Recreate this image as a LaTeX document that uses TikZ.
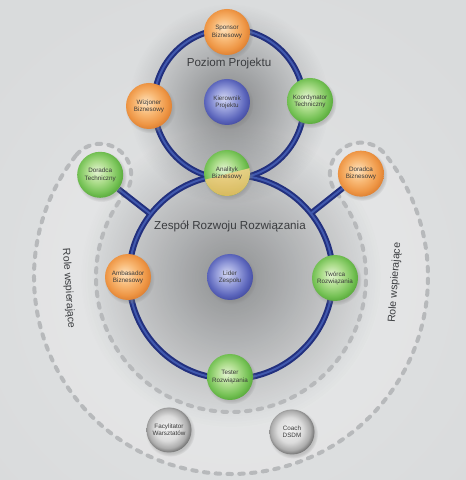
\documentclass[tikz,border=0pt]{standalone}
\usepackage{fontspec}
\setmainfont{Liberation Sans}
\usetikzlibrary{calc,fadings,shadows}

\definecolor{bgc}{HTML}{D9DBDC}
\definecolor{glowc}{HTML}{4A4C4F}
\definecolor{txt}{HTML}{3A3A3A}
\definecolor{ttl}{HTML}{3B3D40}
\definecolor{ringdark}{HTML}{22307E}
\definecolor{ringlight}{HTML}{4159AE}
\definecolor{dashc}{HTML}{B7B9BB}
% orange
\definecolor{or1}{HTML}{FDE2BE}
\definecolor{or2}{HTML}{F8B874}
\definecolor{or3}{HTML}{EE9645}
\definecolor{or4}{HTML}{D9792C}
% green
\definecolor{gr1}{HTML}{E4F4D2}
\definecolor{gr2}{HTML}{ABDC8A}
\definecolor{gr3}{HTML}{74C154}
\definecolor{gr4}{HTML}{50A334}
% blue
\definecolor{bl1}{HTML}{D2D6F2}
\definecolor{bl2}{HTML}{949CDA}
\definecolor{bl3}{HTML}{5C66BC}
\definecolor{bl4}{HTML}{3E469C}
% gray glass
\definecolor{gy1}{HTML}{F2F2F2}
\definecolor{gy2}{HTML}{DCDCDC}
\definecolor{gy3}{HTML}{ACACAC}
\definecolor{gy4}{HTML}{5E5E5E}
% yellow part
\definecolor{ye1}{HTML}{F6E2A6}
\definecolor{ye2}{HTML}{E3B557}

\pgfdeclareradialshading{ballorange}{\pgfpoint{-4bp}{4bp}}{color(0bp)=(or1); color(12bp)=(or2); color(22bp)=(or3); color(29bp)=(or4); color(50bp)=(or4)}
\pgfdeclareradialshading{ballgreen}{\pgfpoint{-4bp}{4bp}}{color(0bp)=(gr1); color(12bp)=(gr2); color(22bp)=(gr3); color(29bp)=(gr4); color(50bp)=(gr4)}
\pgfdeclareradialshading{ballblue}{\pgfpoint{-4bp}{4bp}}{color(0bp)=(bl1); color(12bp)=(bl2); color(22bp)=(bl3); color(29bp)=(bl4); color(50bp)=(bl4)}
\pgfdeclareradialshading{ballgray}{\pgfpoint{-3bp}{3bp}}{color(0bp)=(gy1); color(14bp)=(gy2); color(22bp)=(gy3); color(28bp)=(gy4); color(50bp)=(gy4)}

\tikzfading[name=glowfade, inner color=transparent!0, outer color=transparent!100]

\pgfdeclarelayer{bg}
\pgfsetlayers{bg,main}

\begin{document}
\begin{tikzpicture}[x=1pt,y=1pt,
  ball/.style={circle, minimum size=46pt, inner sep=0pt, align=center, text=txt,
    font=\fontsize{6.3}{7.2}\selectfont,
    circular drop shadow={shadow xshift=1.2pt, shadow yshift=-1.8pt, opacity=.35}},
  orangeball/.style={ball, shade, shading=ballorange},
  greenball/.style={ball, shade, shading=ballgreen},
  blueball/.style={ball, shade, shading=ballblue},
  grayball/.style={ball, shade, shading=ballgray, minimum size=45pt},
  ring/.style={line width=6pt, draw=ringdark},
  ringhi/.style={line width=2pt, draw=ringlight},
  band/.style={draw=dashc, line width=4pt, dash pattern=on 4.5pt off 7.3pt, line cap=round},
  title/.style={font=\fontsize{11.6}{13}\selectfont, text=ttl, inner sep=0pt},
  side/.style={font=\fontsize{10.5}{12}\selectfont, text=ttl, inner sep=0pt},
]
\useasboundingbox (0,0) rectangle (466,480);

\coordinate (C1) at (229,376);
\coordinate (C2) at (231,203);

% nodes
\node[orangeball] (sp) at (227,448) {Sponsor\\Biznesowy};
\node[orangeball] (wz) at (149,374) {Wizjoner\\Biznesowy};
\node[blueball]   (kp) at (227,378) {Kierownik\\Projektu};
\node[greenball]  (kt) at (310,379) {Koordynator\\Techniczny};
\node[greenball, path picture={
   \shade[top color=ye1, bottom color=ye2, opacity=.9]
     ([shift={(-30,-8.8)}]path picture bounding box.center) --
     ([shift={(30,6.8)}]path picture bounding box.center) --
     ([shift={(30,-30)}]path picture bounding box.center) --
     ([shift={(-30,-30)}]path picture bounding box.center) -- cycle;}]
   (ab) at (227,307) {Analityk\\Biznesowy};
\node[greenball]  (dt) at ($(C2)+(142:166)$) {Doradca\\Techniczny};
\node[orangeball] (db) at ($(C2)+(38.5:166)$) {Doradca\\Biznesowy};
\node[orangeball] (am) at (128,203) {Ambasador\\Biznesowy};
\node[blueball]   (ld) at (230,203) {Lider\\Zespołu};
\node[greenball]  (tw) at (335,202) {Twórca\\Rozwiązania};
\node[greenball]  (ts) at (230,103) {Tester\\Rozwiązania};
\node[grayball]   (fw) at (169,50) {Facylitator\\Warsztatów};
\node[grayball]   (cd) at (292,48) {Coach\\DSDM};

% labels
\node[title] (pp) at (229,416) {Poziom Projektu};
\node[title] (zr) at (230,254) {Zespół Rozwoju Rozwiązania};
\node[side, rotate=-86] (rl) at ($(C2)+(184:163)$) {Role wspierające};
\node[side, rotate=86]  (rr) at ($(C2)+(-2:164)$) {Role wspierające};

\coordinate (dtr) at ($(C2)+(142:102)$);
\coordinate (dbr) at ($(C2)+(38.5:102)$);

\begin{pgfonlayer}{bg}
  \fill[bgc] (0,0) rectangle (466,480);
  \fill[white, opacity=.25, path fading=glowfade] (233,200) circle (330);
  % band interior light
  \fill[white, opacity=.18] ($(C2)+(142:197)$) arc[start angle=142, end angle=398.5, radius=197]
     arc[start angle=38.5, end angle=218.5, radius=31]
     arc[start angle=398.5, end angle=142, radius=135]
     arc[start angle=322, end angle=502, radius=31] -- cycle;
  % glows
  \fill[glowc, fill opacity=.55, path fading=glowfade] (C2) circle (150);
  \fill[glowc, fill opacity=.6, path fading=glowfade] (C1) circle (100);
  % dashed band
  \draw[band] ($(C2)+(142:197)$) arc[start angle=142, end angle=398.5, radius=197]
     arc[start angle=38.5, end angle=218.5, radius=31]
     arc[start angle=398.5, end angle=142, radius=135]
     arc[start angle=322, end angle=502, radius=31] -- cycle;
  % rings and connectors
  \draw[ring] (C1) circle (75);
  \draw[ring] (C2) circle (102);
  \draw[ring] (dt) -- (dtr);
  \draw[ring] (db) -- (dbr);
  \draw[ringhi] (C1) circle (75);
  \draw[ringhi] (C2) circle (102);
  \draw[ringhi] (dt) -- (dtr);
  \draw[ringhi] (db) -- (dbr);
\end{pgfonlayer}
\end{tikzpicture}
\end{document}
